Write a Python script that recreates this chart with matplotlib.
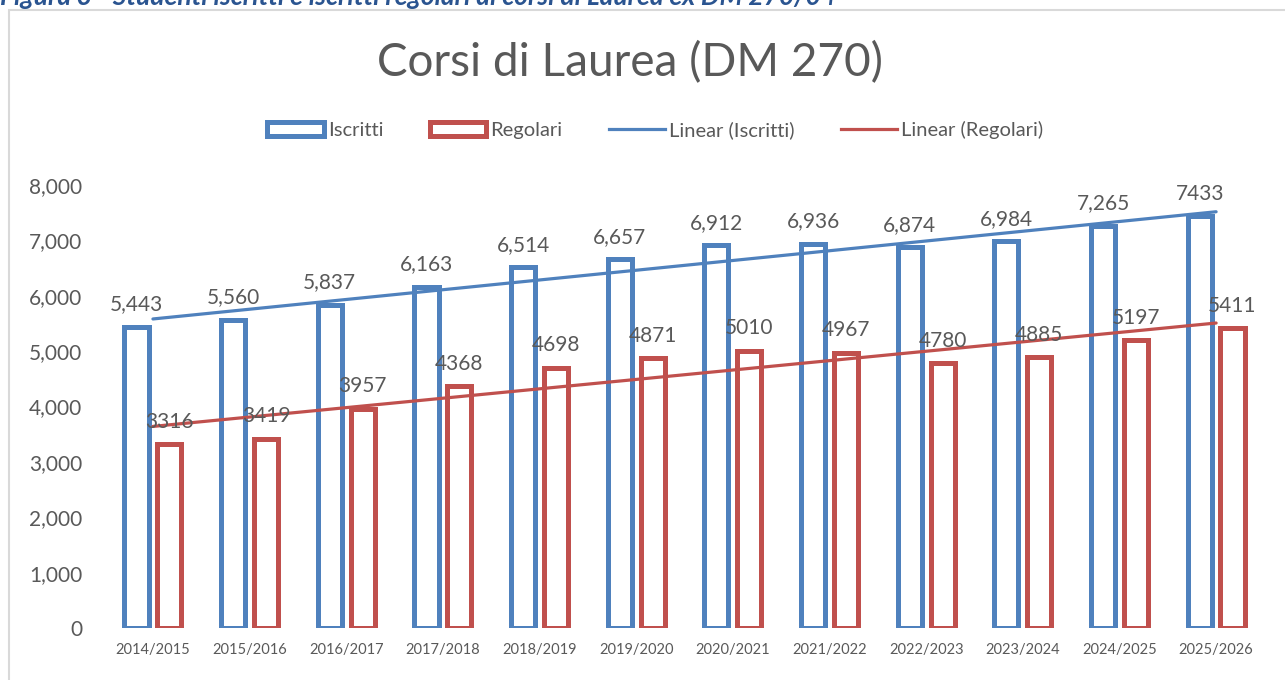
import numpy as np
import matplotlib.pyplot as plt
from matplotlib.patches import Rectangle
from matplotlib.lines import Line2D

plt.rcParams['font.family'] = ['Lato', 'DejaVu Sans']

# dati
anni = ["2014/2015", "2015/2016", "2016/2017", "2017/2018", "2018/2019", "2019/2020",
        "2020/2021", "2021/2022", "2022/2023", "2023/2024", "2024/2025", "2025/2026"]
iscritti = [5443, 5560, 5837, 6163, 6514, 6657, 6912, 6936, 6874, 6984, 7265, 7433]
regolari = [3316, 3419, 3957, 4368, 4698, 4871, 5010, 4967, 4780, 4885, 5197, 5411]
lab_iscritti = ["5,443", "5,560", "5,837", "6,163", "6,514", "6,657", "6,912", "6,936",
                "6,874", "6,984", "7,265", "7433"]
lab_regolari = [str(v) for v in regolari]

blu = "#4F81BD"
rosso = "#C0504D"
grigio = "#595959"

fig = plt.figure(figsize=(12.85, 6.8), dpi=100)
ax = fig.add_axes([0.0814, 0.0765, 0.9026, 0.6515])

x = np.arange(len(anni))
w = 0.25
off = 0.17
ax.bar(x - off, iscritti, w, facecolor="white", edgecolor=blu, linewidth=3.6, zorder=2)
ax.bar(x + off, regolari, w, facecolor="white", edgecolor=rosso, linewidth=3.6, zorder=2)

# linee di tendenza
for serie, col in [(iscritti, blu), (regolari, rosso)]:
    p = np.polyfit(x, serie, 1)
    ax.plot([x[0], x[-1]], np.polyval(p, [x[0], x[-1]]), color=col, lw=2.3,
            solid_capstyle="round", zorder=3)

# etichette
for xi, v, t in zip(x, iscritti, lab_iscritti):
    ax.annotate(t, (xi - off, v), xytext=(0, 9), textcoords="offset points",
                ha="center", va="bottom", fontsize=15, color=grigio, zorder=4)
for xi, v, t in zip(x, regolari, lab_regolari):
    ax.annotate(t, (xi + off, v), xytext=(0, 9), textcoords="offset points",
                ha="center", va="bottom", fontsize=15, color=grigio, zorder=4)

ax.set_xlim(-0.5, len(anni) - 0.5)
ax.set_ylim(0, 8000)
ax.set_yticks(np.arange(0, 8001, 1000))
ax.set_yticklabels([f"{v:,}" for v in range(0, 8001, 1000)])
ax.set_xticks(x)
ax.set_xticklabels(anni)
ax.tick_params(axis="y", length=0, pad=16, labelsize=15, labelcolor=grigio)
ax.tick_params(axis="x", length=0, pad=11, labelsize=10.5, labelcolor=grigio)
for s in ax.spines.values():
    s.set_visible(False)

# titolo e legenda
fig.text(0.490, 0.908, "Corsi di Laurea (DM 270)", ha="center", va="center",
         fontsize=33, color=grigio)
handles = [Rectangle((0, 0), 1, 1, facecolor="white", edgecolor=blu, lw=3.6),
           Rectangle((0, 0), 1, 1, facecolor="white", edgecolor=rosso, lw=3.6),
           Line2D([], [], color=blu, lw=2.3),
           Line2D([], [], color=rosso, lw=2.3)]
fig.legend(handles, ["Iscritti", "Regolari", "Linear (Iscritti)", "Linear (Regolari)"],
           loc="center", bbox_to_anchor=(0.51, 0.809), ncol=4, frameon=False,
           fontsize=14.5, labelcolor=grigio, handlelength=2.8, handletextpad=0.2,
           columnspacing=2.3)

# cornice e didascalia tagliata
fig.patches.append(Rectangle((9 / 1285, -0.1), 1.2, 1 - 10 / 680 + 0.1,
                             transform=fig.transFigure, fill=False,
                             edgecolor="#D9D9D9", lw=1.5))
fig.text(0.0, 1 - 5 / 680, "Figura 3 - Studenti iscritti e iscritti regolari ai corsi di Laurea ex DM 270/04",
         ha="left", va="baseline", fontsize=19, fontweight="bold", style="italic",
         color="#2A5490")

fig.savefig("out.png", dpi=100)
